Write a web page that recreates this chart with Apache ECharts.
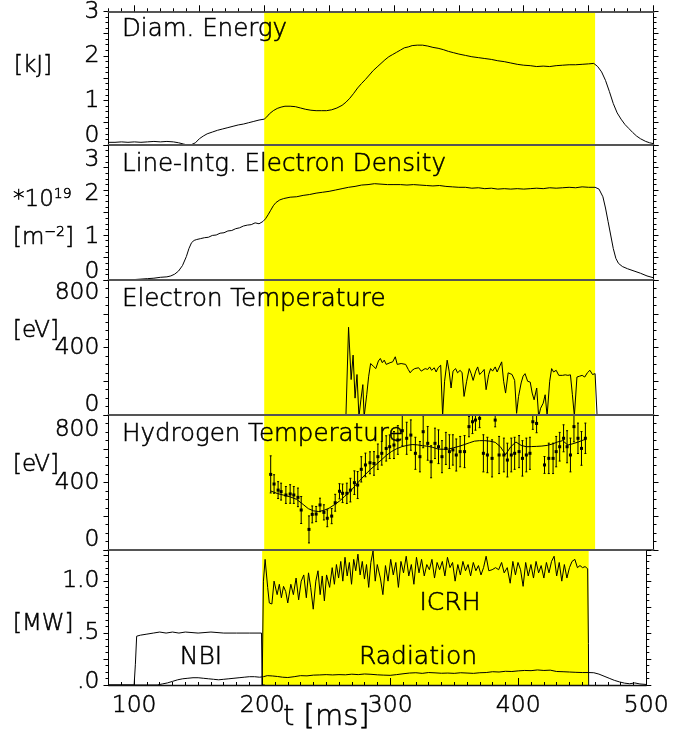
<!DOCTYPE html>
<html>
<head>
<meta charset="utf-8">
<script src="https://cdn.jsdelivr.net/npm/echarts/dist/echarts.min.js"></script>
<style>
  html, body { margin: 0; padding: 0; background: #fff; overflow: hidden; }
  #chart { width: 672px; height: 738px; }
</style>
</head>
<body>
<div id="chart"></div>
<script>
// ---- time axis ----
const tMin = 80, tMax = 500;
const tLabels = [100, 200, 300, 400, 500];
const topMajors = [100, 150, 200, 250, 300, 350, 400, 450, 500];
const heatingWindow = [200, 455];

// ---- panel 1: diamagnetic energy [kJ] ----
const energy = [[80,0.06],[85,0.06],[90,0.07],[95,0.06],[100,0.07],[105,0.06],[110,0.07],[115,0.08],[120,0.07],[125,0.08],[130,0.07],[134,0.05],[138,0.02],[141,0.0],[144,0.01],[147,0.05],[150,0.14],[153,0.2],[156,0.25],[160,0.29],[164,0.33],[168,0.36],[172,0.39],[176,0.42],[180,0.45],[184,0.47],[188,0.5],[192,0.53],[196,0.56],[200,0.58],[202,0.63],[204,0.7],[207,0.77],[210,0.82],[213,0.85],[216,0.87],[220,0.87],[224,0.86],[228,0.83],[232,0.8],[236,0.78],[240,0.77],[244,0.77],[248,0.77],[252,0.79],[256,0.83],[260,0.89],[263,0.96],[266,1.05],[269,1.16],[272,1.28],[275,1.38],[278,1.47],[281,1.57],[284,1.67],[287,1.75],[290,1.83],[293,1.91],[296,1.98],[299,2.03],[302,2.08],[305,2.13],[308,2.18],[311,2.2],[314,2.23],[318,2.24],[322,2.24],[326,2.22],[330,2.19],[334,2.17],[338,2.14],[342,2.1],[346,2.07],[350,2.04],[355,2.01],[360,1.98],[365,1.96],[370,1.94],[375,1.92],[380,1.89],[385,1.87],[390,1.84],[395,1.81],[400,1.79],[405,1.78],[410,1.76],[415,1.77],[420,1.76],[425,1.78],[430,1.79],[435,1.8],[440,1.8],[445,1.81],[450,1.82],[454,1.83],[457,1.76],[460,1.64],[463,1.45],[466,1.2],[469,0.93],[472,0.72],[475,0.58],[478,0.46],[481,0.37],[484,0.28],[487,0.2],[490,0.14],[494,0.08],[497,0.05],[500,0.03]];

// ---- panel 2: line-integrated electron density [1e19 m^-2] ----
const density = [[80,0.01],[90,0.01],[100,0.01],[105,0.02],[110,0.03],[115,0.04],[120,0.06],[125,0.07],[128,0.09],[131,0.13],[134,0.2],[137,0.32],[140,0.52],[142,0.7],[144,0.83],[146,0.88],[148,0.9],[151,0.92],[154,0.94],[157,0.95],[160,0.99],[163,1.0],[166,1.04],[169,1.05],[172,1.09],[175,1.1],[178,1.14],[181,1.16],[184,1.2],[187,1.22],[190,1.23],[193,1.27],[196,1.25],[199,1.3],[201,1.36],[203,1.45],[205,1.55],[207,1.65],[209,1.72],[212,1.78],[215,1.81],[220,1.84],[225,1.85],[230,1.88],[235,1.9],[240,1.93],[245,1.95],[250,1.97],[255,2.0],[260,2.03],[265,2.06],[270,2.08],[275,2.11],[280,2.12],[285,2.14],[290,2.13],[295,2.12],[300,2.12],[305,2.12],[310,2.11],[315,2.12],[320,2.11],[325,2.1],[330,2.09],[335,2.1],[340,2.08],[345,2.07],[350,2.06],[355,2.06],[360,2.04],[365,2.05],[370,2.03],[375,2.04],[380,2.02],[385,2.03],[390,2.02],[395,2.03],[400,2.02],[405,2.03],[410,2.04],[415,2.03],[420,2.05],[425,2.04],[430,2.05],[435,2.06],[440,2.05],[445,2.07],[450,2.06],[455,2.06],[458,2.02],[461,1.85],[463,1.6],[465,1.3],[467,1.0],[469,0.7],[471,0.48],[473,0.37],[476,0.3],[480,0.25],[485,0.2],[490,0.15],[495,0.09],[500,0.05]];

// ---- panel 3: electron temperature [eV] ----
const electronTemp = [[220,0],[263,0],[265,520],[267,210],[268.5,355],[270,100],[271.5,240],[273,-10],[274.5,90],[276,180],[277,-10],[279,120],[280.5,230],[282,305],[284,290],[286,275],[288,320],[289.5,335],[291,310],[292.5,325],[294,300],[295.5,295],[297,310],[299,315],[301,345],[302.5,300],[304,290],[305.5,305],[307,315],[309,300],[311,270],[312.5,250],[314,265],[316,275],[317.5,265],[319,280],[321,260],[322.5,255],[324,275],[326,270],[327.5,285],[329,265],[331,280],[332.5,255],[334,280],[336,295],[337.5,-5],[339,200],[341,325],[342.5,260],[344,160],[345.5,260],[347.5,275],[349,250],[351,265],[352.5,250],[354,110],[356,200],[358,275],[359.5,245],[361,205],[363,260],[364.5,285],[366,240],[368,255],[369.5,270],[371,150],[373,240],[374.5,275],[376,260],[378,285],[379.5,255],[381,265],[383,315],[384.5,200],[386,130],[388,250],[389.5,255],[391,240],[393,205],[394.5,10],[396,110],[398,190],[399.5,230],[401,245],[403,200],[405,195],[406.5,130],[408,90],[410,160],[411.5,-10],[413,40],[415,70],[416.5,120],[418,-5],[420,200],[421.5,275],[423,255],[425,265],[427,235],[428.5,245],[430,235],[432,238],[434,235],[436,238],[437.5,120],[439,-5],[441,225],[443,230],[445,235],[447,225],[449,250],[451,265],[453,240],[455,245],[456.5,0],[458,0]];

// ---- panel 4: hydrogen temperature [eV]: [t, value, error] and smoothed trend ----
const hydrogenPoints = [[205,448,110],[207.6,391,55],[210.7,355,50],[213,346,50],[216.7,326,50],[220,332,55],[222.8,326,50],[226,312,55],[228.5,237,80],[234.5,122,80],[237,211,50],[240,213,45],[243,267,40],[246,223,45],[248.6,188,50],[252,201,45],[254.7,280,50],[258,348,45],[260.4,336,55],[263.7,336,60],[266.4,355,70],[269.5,399,70],[272,385,80],[274.8,478,75],[278,504,70],[281.5,517,65],[284.6,513,70],[287.6,553,75],[290.6,573,70],[294,602,75],[296.7,612,70],[300,622,80],[303,652,85],[306.4,707,90],[309.8,662,95],[313,681,90],[316.5,573,95],[320,553,90],[322.5,701,95],[326,632,100],[328.6,523,95],[331.6,632,90],[334.3,612,100],[337,553,95],[340,602,95],[342.7,583,100],[345.4,593,90],[348,563,95],[351,583,90],[354.4,583,95],[357.8,731,60],[360.5,760,70],[362.8,770,60],[366,780,55],[368.9,573,110],[372,563,105],[375.6,543,110],[378,770,40],[381,563,110],[384.7,563,100],[387.4,533,100],[390.4,563,100],[393,573,95],[396.4,583,95],[399,543,105],[402,563,100],[404.8,573,95],[407,760,45],[409.9,750,55],[416,504,50],[419.3,543,90],[422.6,543,90],[425,583,90],[427.7,612,85],[430.7,662,80],[433.4,612,95],[436,563,100],[438.7,731,90],[441.8,662,90],[444.5,602,100],[447.5,662,90]];
const hydrogenTrend = [[205,350],[210,335],[215,325],[220,315],[225,300],[230,270],[234,245],[238,232],[242,228],[246,235],[250,248],[254,268],[258,290],[262,318],[266,345],[270,380],[274,415],[278,448],[282,478],[286,505],[290,532],[294,560],[298,583],[302,600],[306,612],[310,620],[314,625],[318,623],[322,618],[326,615],[330,608],[334,598],[338,597],[342,598],[346,606],[350,614],[354,624],[358,635],[362,645],[366,648],[370,648],[374,645],[378,638],[382,612],[386,565],[390,612],[394,640],[398,620],[402,612],[406,613],[410,614],[414,616],[418,620],[422,628],[426,640],[430,648],[434,622],[438,630],[442,640],[446,652],[448,656]];

// ---- panel 5: heating and radiated power [MW] ----
const nbi = [[80,0],[100,0],[101,0.2],[102,0.47],[105,0.48],[110,0.49],[115,0.5],[120,0.51],[125,0.5],[130,0.51],[135,0.5],[140,0.51],[150,0.5],[160,0.51],[170,0.5],[180,0.5],[190,0.5],[199.5,0.5],[200,0],[202,0]];
const icrh = [[200,0],[201,1.0],[202.3,1.21],[204.3,0.94],[205.6,0.79],[207.6,0.78],[209.3,1.0],[211.7,0.87],[213.4,0.97],[215,0.84],[216.7,0.95],[218.4,0.9],[220,0.79],[222.4,0.97],[224.4,0.87],[226.5,1.03],[228.5,0.82],[230.5,1.0],[232.5,1.06],[234.5,0.84],[236.2,1.08],[237.9,0.94],[239.9,0.73],[241.9,1.0],[243.6,1.1],[245.3,0.87],[246.9,1.05],[248.6,0.81],[250.3,1.06],[252.7,0.94],[254.7,1.13],[256.4,0.97],[258,1.16],[259.7,1.03],[261.4,1.19],[263,1.0],[264.7,1.23],[266.4,1.05],[268.1,1.18],[269.8,0.97],[271.5,1.21],[273.1,1.1],[274.8,1.26],[276.5,1.06],[278.2,1.19],[279.9,1.02],[281.5,1.16],[283.2,0.94],[284.9,1.18],[286.6,1.29],[288.3,1.0],[289.9,1.16],[292.3,1.03],[294.3,0.87],[296.3,1.15],[298.3,1.0],[300.4,1.21],[302.4,1.06],[304.4,1.18],[306.4,0.94],[308.4,1.19],[310.4,1.08],[312.5,1.24],[314.5,1.05],[316.5,1.16],[318.5,0.97],[320.5,1.23],[322.5,1.08],[324.5,1.21],[326.6,1.05],[328.6,1.16],[330.6,1.11],[332.6,1.21],[334.6,1.03],[336.6,1.18],[338.6,1.11],[340.7,1.19],[342.7,1.05],[344.7,1.23],[346.7,1.13],[348.7,1.18],[350.7,1.0],[352.8,1.16],[354.8,1.06],[356.8,1.19],[358.8,1.1],[360.8,1.16],[362.8,1.05],[364.9,1.18],[366.9,1.1],[368.9,1.15],[370.9,1.06],[372.9,1.13],[374.9,1.24],[377,1.1],[379.6,1.11],[382.3,1.13],[384.7,1.11],[387,1.18],[389,1.08],[391.4,1.13],[393.7,0.98],[395.8,1.19],[397.8,1.06],[399.8,1.18],[401.8,1.11],[403.8,0.95],[405.8,1.18],[407.8,1.05],[409.9,1.16],[411.9,1.03],[413.9,1.19],[415.9,1.08],[417.9,1.15],[420,1.03],[422,1.18],[424,1.08],[426,1.19],[428,1.24],[430,1.05],[432,1.18],[434,1.0],[436,1.16],[438,1.03],[440,1.13],[442,1.19],[444.2,1.21],[446.2,1.13],[448.2,1.15],[450.2,1.13],[452.2,1.14],[454.2,1.12],[454.8,0.4],[455,0]];
const radiation = [[80,0],[118,0],[122,0.01],[126,0.02],[130,0.035],[134,0.05],[138,0.06],[142,0.065],[146,0.07],[150,0.07],[154,0.065],[158,0.06],[162,0.055],[166,0.05],[170,0.055],[174,0.06],[178,0.065],[182,0.07],[186,0.075],[190,0.08],[194,0.08],[198,0.075],[201,0.08],[204,0.09],[208,0.087],[212,0.082],[216,0.075],[220,0.072],[225,0.08],[230,0.09],[235,0.088],[240,0.095],[245,0.097],[250,0.1],[255,0.097],[260,0.1],[265,0.098],[270,0.104],[275,0.1],[280,0.106],[285,0.103],[290,0.098],[295,0.095],[300,0.093],[305,0.1],[310,0.108],[315,0.115],[320,0.118],[325,0.112],[330,0.12],[335,0.117],[340,0.113],[345,0.115],[350,0.112],[355,0.118],[360,0.115],[365,0.112],[370,0.118],[375,0.12],[380,0.128],[385,0.125],[390,0.132],[395,0.13],[400,0.136],[405,0.14],[410,0.138],[415,0.145],[420,0.14],[425,0.143],[430,0.13],[435,0.128],[440,0.125],[445,0.122],[450,0.12],[455,0.12],[459,0.118],[463,0.105],[467,0.085],[471,0.065],[475,0.045],[479,0.03],[483,0.018],[487,0.012],[491,0.02],[495,0.01],[500,0.005]];

// ---- panel texts ----
const panelTitles = ['Diam. Energy', 'Line-Intg. Electron Density', 'Electron Temperature', 'Hydrogen Temperature'];
const powerNotes = [['ICRH', 450, 603], ['NBI', 201, 657], ['Radiation', 418, 657]];

// y-axis scales: range, tick step and the labelled values with their display text
const yScales = [
  { min: 0, max: 3,   step: 0.5,  labels: { 0: '0', 1: '1', 2: '2', 3: '3' } },
  { min: 0, max: 3,   step: 0.5,  labels: { 0: '0', 1: '1', 2: '2', 3: '3' } },
  { min: 0, max: 800, step: 200,  labels: { 0: '0', 400: '400', 800: '800' } },
  { min: 0, max: 800, step: 200,  labels: { 0: '0', 400: '400', 800: '800' } },
  { min: 0, max: 1.3, step: 0.25, labels: { 0: '.0', 0.5: '.5', 1: '1.0' } }
];
// vertical nudge (px, + = down) of edge labels so they stay inside their panel
const yLabelNudge = [
  { 0: -9, 3: 1 },
  { 0: -8, 1: 2, 2: 4, 3: 15 },
  { 0: -10, 800: 13 },
  { 0: -10, 800: 15 },
  { 0: -3 }
];

// ---- layout & type ----
const FONT = 'DejaVu Sans';
const WEIGHT = 200;
const INK = '#000';
const EDGE = 0.55; // slight outline to give the light face a plotter-pen stroke
const gridLeft = 108.5, gridRight = 18.5, panelTop = 10, panelH = 135;
const nPanels = 5;

const grids = [], xAxes = [], yAxes = [], series = [], graphics = [];

function labelFont(size) {
  return { fontFamily: FONT, fontWeight: WEIGHT, fontSize: size, color: INK,
           textBorderColor: INK, textBorderWidth: EDGE };
}
function textStyle(text, size, align, extra) {
  return Object.assign({ text, fontFamily: FONT, fontWeight: WEIGHT, fontSize: size, fill: INK,
    stroke: INK, lineWidth: EDGE, align, verticalAlign: 'middle' }, extra || {});
}

for (let i = 0; i < nPanels; i++) {
  grids.push({ left: gridLeft, right: gridRight, top: panelTop + panelH * i, height: panelH });
  const last = i === nPanels - 1;

  // bottom axis of each panel (panel divider)
  xAxes.push({
    type: 'value', gridIndex: i, min: tMin, max: tMax, position: 'bottom', z: 6,
    axisLine: { onZero: false, lineStyle: { color: last ? '#111' : '#555', width: last ? 1.3 : 2 } },
    axisTick: { show: false }, axisLabel: { show: false }, splitLine: { show: false }
  });

  // left & right y axes
  const sc = yScales[i], nudge = yLabelNudge[i];
  const keys = Object.keys(sc.labels);
  const rich = {};
  keys.forEach((k, j) => {
    const s = nudge[k] || 0;
    rich['k' + j] = Object.assign(labelFont(23.5), {
      padding: s > 0 ? [2 * s, 0, 0, 0] : [0, 0, -2 * s, 0]
    });
  });
  yAxes.push({
    type: 'value', gridIndex: i, min: sc.min, max: sc.max, interval: sc.step, position: 'left', z: 6,
    axisLine: { show: true, onZero: false, lineStyle: { color: '#000', width: 1 } },
    axisTick: { show: true, inside: false, length: 5, lineStyle: { color: '#000' } },
    minorTick: { show: true, splitNumber: 4, length: 3, lineStyle: { color: '#000' } },
    splitLine: { show: false }, minorSplitLine: { show: false },
    axisLabel: {
      margin: 9, showMinLabel: true, showMaxLabel: true,
      formatter: v => {
        const j = keys.findIndex(k => Math.abs(parseFloat(k) - v) < 1e-9);
        return j < 0 ? '' : '{k' + j + '|' + sc.labels[keys[j]] + '}';
      },
      rich
    }
  });
  yAxes.push({
    type: 'value', gridIndex: i, min: sc.min, max: sc.max, interval: sc.step, position: 'right', z: 6,
    axisLine: { show: true, onZero: false, lineStyle: { color: '#000', width: 1 } },
    axisTick: { show: true, inside: false, length: 5, lineStyle: { color: '#000' } },
    minorTick: { show: true, splitNumber: 4, length: 3, lineStyle: { color: '#000' } },
    splitLine: { show: false }, axisLabel: { show: false }
  });

  // heating window band
  series.push({
    type: 'line', xAxisIndex: i, yAxisIndex: 2 * i, data: [], z: 1, silent: true,
    markArea: {
      silent: true, itemStyle: { color: '#ffff00', opacity: 1 }, label: { show: false },
      data: [[{ xAxis: heatingWindow[0] }, { xAxis: heatingWindow[1] }]]
    }
  });
}

// time-axis ticks & labels under the last panel
xAxes.push({
  type: 'value', gridIndex: 4, min: tMin, max: tMax, interval: 10, position: 'bottom', z: 7,
  axisLine: { show: false, onZero: false },
  axisTick: { show: true, inside: true, length: 3, lineStyle: { color: '#000' } },
  axisLabel: { show: false }, splitLine: { show: false }
});
xAxes.push({
  type: 'value', gridIndex: 4, min: tMin, max: tMax, position: 'bottom', z: 7,
  axisLine: { show: false, onZero: false },
  axisTick: { show: true, inside: true, length: 7, customValues: tLabels, lineStyle: { color: '#000' } },
  axisLabel: Object.assign({ show: true, customValues: tLabels, margin: 9 }, labelFont(23.5)),
  splitLine: { show: false }
});
// top frame ticks of the first panel
xAxes.push({
  type: 'value', gridIndex: 0, min: tMin, max: tMax, interval: 10, position: 'top', z: 7,
  axisLine: { show: true, onZero: false, lineStyle: { color: '#555', width: 2 } },
  axisTick: { show: true, inside: false, length: 3, lineStyle: { color: '#000' } },
  axisLabel: { show: false }, splitLine: { show: false }
});
xAxes.push({
  type: 'value', gridIndex: 0, min: tMin, max: tMax, position: 'top', z: 7,
  axisLine: { show: false, onZero: false },
  axisTick: { show: true, inside: false, length: 6, customValues: topMajors, lineStyle: { color: '#000' } },
  axisLabel: { show: false }, splitLine: { show: false }
});

const lineBase = { type: 'line', showSymbol: false, symbol: 'none', z: 3, silent: true,
  lineStyle: { color: '#000', width: 1 }, clip: true };

series.push(Object.assign({}, lineBase, { name: 'energy', xAxisIndex: 0, yAxisIndex: 0, data: energy }));
series.push(Object.assign({}, lineBase, { name: 'density', xAxisIndex: 1, yAxisIndex: 2, data: density }));
series.push(Object.assign({}, lineBase, { name: 'Te', xAxisIndex: 2, yAxisIndex: 4, data: electronTemp }));
series.push(Object.assign({}, lineBase, { name: 'Th trend', xAxisIndex: 3, yAxisIndex: 6, data: hydrogenTrend }));
series.push({
  type: 'custom', name: 'Th', xAxisIndex: 3, yAxisIndex: 6, z: 4, silent: true, clip: true,
  data: hydrogenPoints,
  renderItem: (params, api) => {
    const t = api.value(0), v = api.value(1), e = api.value(2);
    const hi = api.coord([t, v + e]), lo = api.coord([t, v - e]), c = api.coord([t, v]);
    return {
      type: 'group',
      children: [
        { type: 'line', shape: { x1: hi[0], y1: hi[1], x2: lo[0], y2: lo[1] }, style: { stroke: '#000', lineWidth: 1 } },
        { type: 'line', shape: { x1: hi[0] - 1, y1: hi[1], x2: hi[0] + 1, y2: hi[1] }, style: { stroke: '#000', lineWidth: 1 } },
        { type: 'line', shape: { x1: lo[0] - 1, y1: lo[1], x2: lo[0] + 1, y2: lo[1] }, style: { stroke: '#000', lineWidth: 1 } },
        { type: 'rect', shape: { x: c[0] - 1.5, y: c[1] - 1.5, width: 3, height: 3 }, style: { fill: '#000' } }
      ]
    };
  }
});
series.push(Object.assign({}, lineBase, { name: 'NBI', xAxisIndex: 4, yAxisIndex: 8, data: nbi }));
series.push(Object.assign({}, lineBase, { name: 'ICRH', xAxisIndex: 4, yAxisIndex: 8, data: icrh }));
series.push(Object.assign({}, lineBase, { name: 'Radiation', xAxisIndex: 4, yAxisIndex: 8, data: radiation }));

// panel titles
panelTitles.forEach((title, i) => {
  graphics.push({ type: 'text', x: 122, y: panelTop + panelH * i + 19.5, z: 10, silent: true,
    style: textStyle(title, 24.5, 'left') });
});
// annotations in the power panel
powerNotes.forEach(([txt, x, y]) => {
  graphics.push({ type: 'text', x, y, z: 10, silent: true, style: textStyle(txt, 25, 'center') });
});
// units
const supRich = { sup: { fontFamily: FONT, fontWeight: WEIGHT, fontSize: 14, fill: INK, stroke: INK, lineWidth: EDGE,
  verticalAlign: 'top', padding: [0, 0, 12, 0] } };
graphics.push({ type: 'text', x: 14, y: 66, z: 10, style: textStyle('[kJ]', 23, 'left') });
graphics.push({ type: 'text', x: 13, y: 200, z: 10, style: textStyle('*10{sup|19}', 23, 'left', { rich: supRich }) });
graphics.push({ type: 'text', x: 13, y: 238, z: 10, style: textStyle('[m{sup|−2}]', 23, 'left', { rich: supRich }) });
graphics.push({ type: 'text', x: 13, y: 331, z: 10, style: textStyle('[eV]', 23, 'left') });
graphics.push({ type: 'text', x: 13, y: 465, z: 10, style: textStyle('[eV]', 23, 'left') });
graphics.push({ type: 'text', x: 13, y: 624, z: 10, style: textStyle('[MW]', 23, 'left') });
// time axis name
graphics.push({ type: 'text', x: 283, y: 717, z: 10, style: textStyle('t [ms]', 29, 'left') });

const chart = echarts.init(document.getElementById('chart'), null, { renderer: 'canvas' });
chart.setOption({
  animation: false,
  backgroundColor: '#fff',
  grid: grids,
  xAxis: xAxes,
  yAxis: yAxes,
  series,
  graphic: graphics
});
</script>
</body>
</html>
